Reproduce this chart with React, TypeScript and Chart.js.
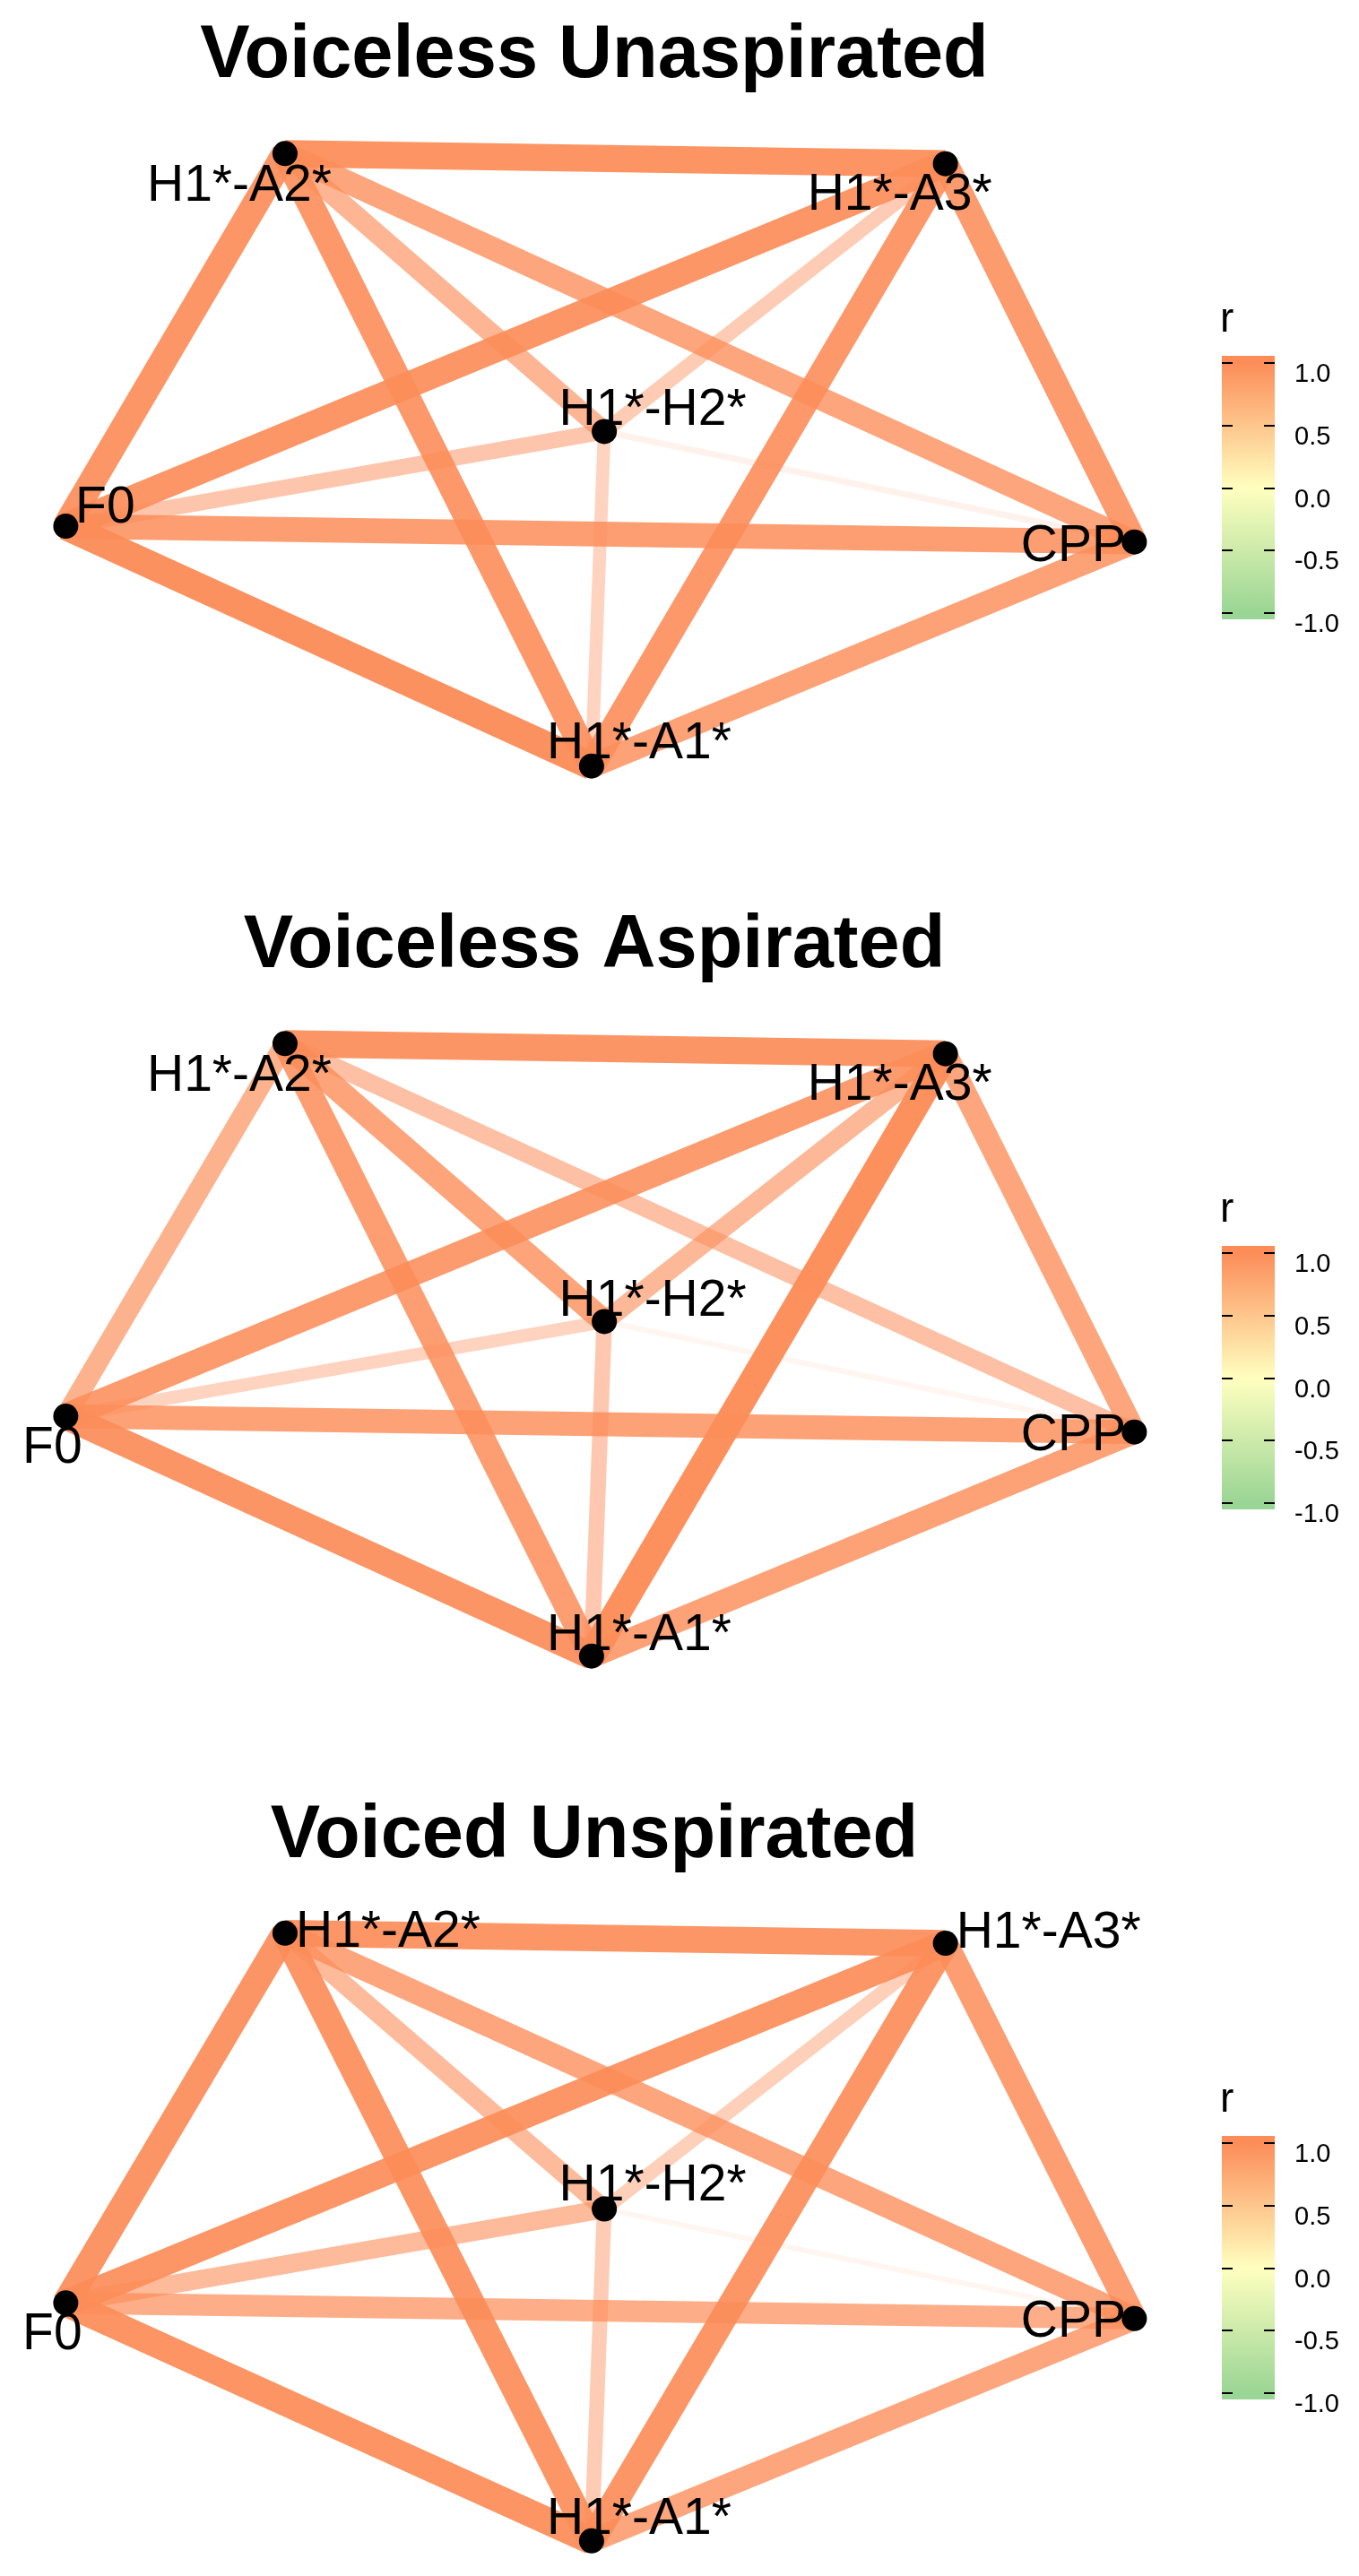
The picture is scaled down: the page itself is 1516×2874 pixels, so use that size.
import React, { useEffect, useRef } from "react";
import { Chart, registerables } from "chart.js";

Chart.register(...registerables);

// ---- data ----
const nodeNames = ["F0", "H1*-A2*", "H1*-A3*", "H1*-H2*", "CPP", "H1*-A1*"];
// layout coordinates of the nodes (multidimensional-scaling style layout)
const nodeX = [-1.0, -0.588, 0.653, 0.012, 1.008, -0.012];
const nodeY = [-0.249, 0.817, 0.788, 0.022, -0.294, -0.935];

// edges: F0-A2, F0-A3, F0-H2, F0-CPP, F0-A1, A2-A3, A2-H2, A2-CPP, A2-A1, A3-H2, A3-CPP, A3-A1, H2-CPP, H2-A1, CPP-A1
const edgeFrom = [0, 0, 0, 0, 0, 1, 1, 1, 1, 2, 2, 2, 3, 3, 4];
const edgeTo = [1, 2, 3, 4, 5, 2, 3, 4, 5, 3, 4, 5, 4, 5, 5];

const panelTitles = ["Voiceless Unaspirated", "Voiceless Aspirated", "Voiced Unspirated"];

const rVoicelessUnaspirated = [0.92, 0.92, 0.5, 0.85, 0.96, 0.94, 0.65, 0.78, 0.9, 0.45, 0.88, 0.9, 0.11, 0.38, 0.82];
const rVoicelessAspirated = [0.68, 0.88, 0.38, 0.82, 0.93, 0.93, 0.8, 0.55, 0.85, 0.62, 0.78, 0.97, 0.08, 0.48, 0.82];
const rVoicedUnaspirated = [0.93, 0.92, 0.6, 0.72, 0.94, 0.92, 0.6, 0.78, 0.92, 0.42, 0.85, 0.92, 0.08, 0.45, 0.78];

const legendTicks = [1.0, 0.5, 0.0, -0.5, -1.0];
const legendTickLabels = ["1.0", "0.5", "0.0", "-0.5", "-1.0"];
const legendTitle = "r";

// ---- styling / layout ----
const FONT = '"Liberation Sans", Arial, Helvetica, sans-serif';
const W = 1516;
const panelHeights = [993, 993, 888];
const AREA_TOP = 100;
const AREA_BOTTOM = 880;
const AREA_RIGHT = 1320;
const LABEL_PX = 57;

// label offsets (px) of each node label relative to its node, per panel
const labelOffsets = [
  [[44, -25], [-51, 32], [-51, 31], [54, -28], [-68, 1], [53, -29]],
  [[-15, 31], [-51, 32], [-51, 31], [54, -27], [-68, 0], [53, -27]],
  [[-15, 31], [115, -5], [115, -15], [54, -30], [-68, 0], [53, -28]],
];

const POS_COLOR = [252, 141, 89];
const NEG_COLOR = [153, 213, 148];

function Panel(props: { title: string; r: number[]; offsets: number[][]; height: number }) {
  const ref = useRef<HTMLCanvasElement>(null);
  useEffect(() => {
    const canvas = ref.current!;
    const datasets: any[] = [];
    datasets.push({
      label: "nodes",
      data: nodeX.map((x, i) => ({ x, y: nodeY[i] })),
      pointRadius: 14,
      pointHoverRadius: 14,
      pointBackgroundColor: "#000",
      pointBorderWidth: 0,
      backgroundColor: "#000",
      borderWidth: 0,
      showLine: false,
      order: 0,
      clip: false,
    });
    edgeFrom.forEach((f, k) => {
      const t = edgeTo[k];
      const r = props.r[k];
      const a = Math.abs(r);
      const c = r >= 0 ? POS_COLOR : NEG_COLOR;
      datasets.push({
        label: nodeNames[f] + "-" + nodeNames[t],
        data: [
          { x: nodeX[f], y: nodeY[f] },
          { x: nodeX[t], y: nodeY[t] },
        ],
        showLine: true,
        pointRadius: 0,
        pointHoverRadius: 0,
        borderColor: `rgba(${c[0]},${c[1]},${c[2]},${a})`,
        borderWidth: 4 + 28 * a,
        borderCapStyle: "butt",
        fill: false,
        tension: 0,
        order: 100 - k,
        clip: false,
      });
    });

    const decor = {
      id: "decor",
      afterDatasetsDraw(chart: any) {
        const ctx = chart.ctx;
        const xs = chart.scales.x;
        const ys = chart.scales.y;
        ctx.save();
        // title
        ctx.fillStyle = "#000";
        ctx.font = `bold 83px ${FONT}`;
        ctx.textAlign = "center";
        ctx.textBaseline = "alphabetic";
        ctx.fillText(props.title, 663, 86);
        // node labels
        ctx.font = `${LABEL_PX}px ${FONT}`;
        nodeNames.forEach((n, i) => {
          const px = xs.getPixelForValue(nodeX[i]) + props.offsets[i][0];
          const py = ys.getPixelForValue(nodeY[i]) + props.offsets[i][1];
          ctx.fillText(n, px, py + LABEL_PX * 0.358);
        });
        // colour bar legend
        const yOf = (v: number) => 544.5 - 139.5 * v;
        const g = ctx.createLinearGradient(0, yOf(1), 0, yOf(-1));
        g.addColorStop(0, "#FC8D59");
        g.addColorStop(0.5, "#FFFFBF");
        g.addColorStop(1, "#99D594");
        ctx.fillStyle = g;
        ctx.fillRect(1363, 397, 59, 294);
        ctx.strokeStyle = "#000";
        ctx.lineWidth = 2;
        ctx.fillStyle = "#000";
        ctx.textAlign = "left";
        ctx.font = `29px ${FONT}`;
        legendTicks.forEach((v, i) => {
          const y = Math.round(yOf(v));
          ctx.beginPath();
          ctx.moveTo(1363, y);
          ctx.lineTo(1375, y);
          ctx.moveTo(1410, y);
          ctx.lineTo(1422, y);
          ctx.stroke();
          ctx.fillText(legendTickLabels[i], 1444, y + 21);
        });
        ctx.font = `46px ${FONT}`;
        ctx.fillText(legendTitle, 1361, 370);
        ctx.restore();
      },
    };

    const chart = new Chart(canvas, {
      type: "scatter",
      data: { datasets },
      options: {
        animation: false,
        responsive: false,
        devicePixelRatio: 1,
        layout: {
          padding: {
            left: 0,
            right: W - AREA_RIGHT,
            top: AREA_TOP,
            bottom: props.height - AREA_BOTTOM,
          },
        },
        scales: {
          x: { type: "linear", min: -1.1, max: 1.1, display: false },
          y: { type: "linear", min: -1, max: 1, display: false },
        },
        plugins: {
          legend: { display: false },
          tooltip: { enabled: false },
          title: { display: false },
        },
        events: [],
      },
      plugins: [decor],
    } as any);
    return () => chart.destroy();
  }, []);
  return (
    <canvas
      ref={ref}
      width={W}
      height={props.height}
      style={{ display: "block", width: W, height: props.height }}
    />
  );
}

export default function App() {
  useEffect(() => {
    document.body.style.margin = "0";
    document.body.style.background = "#fff";
  }, []);
  const rs = [rVoicelessUnaspirated, rVoicelessAspirated, rVoicedUnaspirated];
  return (
    <div style={{ width: W, background: "#fff" }}>
      {panelTitles.map((t, i) => (
        <Panel key={t} title={t} r={rs[i]} offsets={labelOffsets[i]} height={panelHeights[i]} />
      ))}
    </div>
  );
}
